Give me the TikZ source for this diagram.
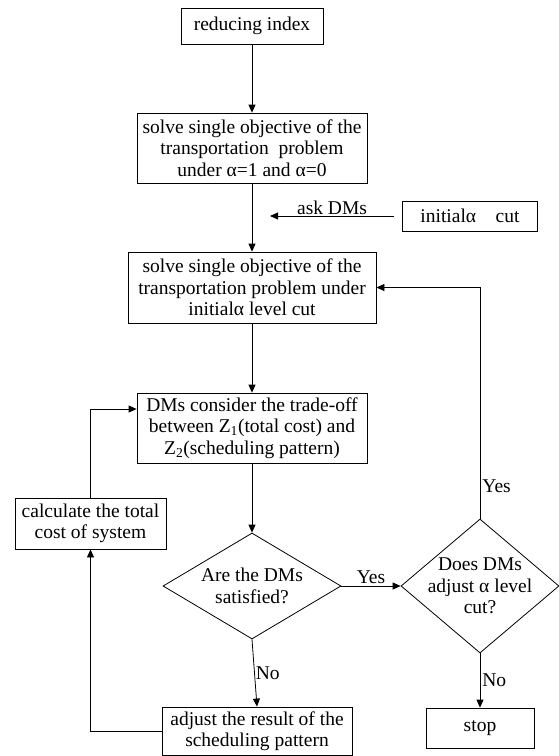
\documentclass[tikz,border=0pt]{standalone}
\usepackage{fontspec}
\setmainfont{Liberation Serif}
\usepackage{tikz}
\usetikzlibrary{arrows.meta,shapes.geometric}

\begin{document}
\begin{tikzpicture}[x=1pt,y=-1pt,>={Triangle[length=8pt,width=7pt]},
  every node/.style={font=\fontsize{19.5}{21.5}\selectfont},
  flowbox/.style={draw,line width=0.8pt,align=center,inner sep=0pt},
  choice/.style={draw,diamond,line width=0.8pt,inner sep=0pt},
  link/.style={->,line width=0.8pt}]
  \useasboundingbox (0,0) rectangle (558,756);
  \node[flowbox,minimum width=142pt,minimum height=36pt] (reduce) at (252,26) {reducing index};
  \node[flowbox,minimum width=230pt,minimum height=70pt] (solvezero) at (252,148)
    {solve single objective of the\\transportation\ \ problem\\under α=1 and α=0};
  \node[flowbox,minimum width=135pt,minimum height=30pt] (initcut) at (470,216) {initialα\quad cut};
  \coordinate (askend) at (270,216);
  \node[flowbox,minimum width=248pt,minimum height=71pt] (solvecut) at (252,287.5)
    {solve single objective of the\\transportation problem under\\initialα level cut};
  \node[flowbox,minimum width=230pt,minimum height=70pt] (tradeoff) at (252,428)
    {DMs consider the trade-off\\between Z\textsubscript{1}(total cost) and\\Z\textsubscript{2}(scheduling pattern)};
  \node[flowbox,minimum width=151pt,minimum height=51pt] (totalcost) at (90.5,523.5)
    {calculate the total\\cost of system};
  \node[choice,minimum width=178pt,minimum height=106pt] (satisfied) at (252,586) {};
  \node[align=center] (satisfiedtext) at (satisfied) {Are the DMs\\satisfied?};
  \node[choice,minimum width=158pt,minimum height=134pt] (adjustcut) at (480,586) {};
  \node[align=center] (adjustcuttext) at (adjustcut) {Does DMs\\adjust α level\\cut?};
  \node[flowbox,minimum width=108pt,minimum height=40pt] (stop) at (480,728) {stop};
  \node[flowbox,minimum width=190pt,minimum height=48pt] (adjustpattern) at (257,731)
    {adjust the result of the\\scheduling pattern};

  \draw[link] (reduce) -- (solvezero);
  \draw[link] (solvezero) -- (solvecut);
  \draw[link] ([xshift=-8pt]initcut.west) -- node[above,inner sep=1pt] {ask DMs} (askend);
  \draw[link] (solvecut) -- (tradeoff);
  \draw[link] (tradeoff) -- (satisfied);
  \draw[link] (satisfied.east) -- node[above,inner sep=2pt] {Yes} (adjustcut.west);
  \draw[link] (adjustcut.north) -- node[right,pos=0.14,inner sep=2pt] {Yes} (adjustcut.north |- solvecut.east) -- (solvecut.east);
  \draw[link] (adjustcut.south) -- node[right,inner sep=2pt] {No} (stop.north);
  \draw[link] (satisfied.south) -- node[right,inner sep=1pt] {No} (adjustpattern.north);
  \draw[link] (adjustpattern.west) -| (totalcost.south);
  \draw[link] (totalcost.north) |- ([yshift=19pt]tradeoff.west);
\end{tikzpicture}
\end{document}
